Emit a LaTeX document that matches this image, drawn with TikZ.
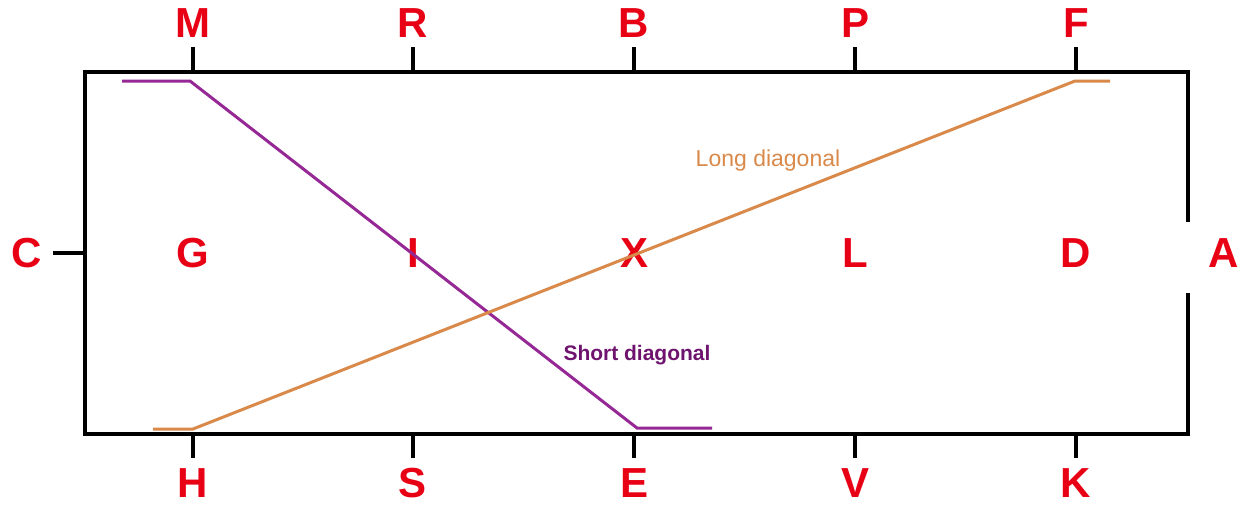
\documentclass[tikz,border=0pt]{standalone}
\usepackage{fontspec}
\setmainfont{Liberation Sans}
\definecolor{lblred}{RGB}{232,0,20}
\definecolor{shortc}{RGB}{150,40,150}
\definecolor{shorttxt}{RGB}{110,20,110}
\definecolor{longc}{RGB}{217,137,74}
\begin{document}
\begin{tikzpicture}[x=1pt,y=-1pt,
  lbl/.style={text=lblred,font=\fontsize{42}{42}\selectfont\bfseries,inner sep=0pt,anchor=center},
  frame/.style={line width=4.5pt,black},
  shortline/.style={line width=3pt,shortc},
  longline/.style={line width=3pt,longc}]
\useasboundingbox (0,0) rectangle (1240,504);
% frame with opening at A
\draw[frame,line join=miter] (1188,222) -- (1188,72) -- (85,72) -- (85,434) -- (1188,434) -- (1188,293);
% ticks
\foreach \x in {193,413,634,855,1076}{
  \draw[frame] (\x,72) -- (\x,47);
  \draw[frame] (\x,434) -- (\x,458);
}
\draw[frame] (85,253) -- (53,253);
% labels
\node[lbl] (M) at (193,23) {M};
\node[lbl] (R) at (413,23) {R};
\node[lbl] (B) at (634,23) {B};
\node[lbl] (P) at (855,23) {P};
\node[lbl] (F) at (1076,23) {F};
\node[lbl] (H) at (193,483) {H};
\node[lbl] (S) at (413,483) {S};
\node[lbl] (E) at (634,483) {E};
\node[lbl] (V) at (855,483) {V};
\node[lbl] (K) at (1076,483) {K};
\node[lbl] (C) at (27,253) {C};
\node[lbl] (G) at (193,253) {G};
\node[lbl] (I) at (413,253) {I};
\node[lbl] (X) at (634,253) {X};
\node[lbl] (L) at (855,253) {L};
\node[lbl] (D) at (1076,253) {D};
\node[lbl] (A) at (1224,253) {A};
% diagonals
\coordinate (s0) at (122,81);
\coordinate (s1) at (190,81);
\coordinate (s2) at (637,428);
\coordinate (s3) at (712,428);
\coordinate (l0) at (153,429);
\coordinate (l1) at (193,429);
\coordinate (l2) at (1075,81);
\coordinate (l3) at (1110,81);
\draw[shortline,line join=miter] (s0) -- (s1) -- (s2) -- (s3);
\draw[longline,line join=miter] (l0) -- (l1) -- (l2) -- (l3);
\node[text=longc,font=\fontsize{23}{23}\selectfont,inner sep=0pt] (longlbl) at (768,161) {Long diagonal};
\node[text=shorttxt,font=\fontsize{21}{21}\selectfont\bfseries,inner sep=0pt] (shortlbl) at (637,355) {Short diagonal};
\end{tikzpicture}
\end{document}
